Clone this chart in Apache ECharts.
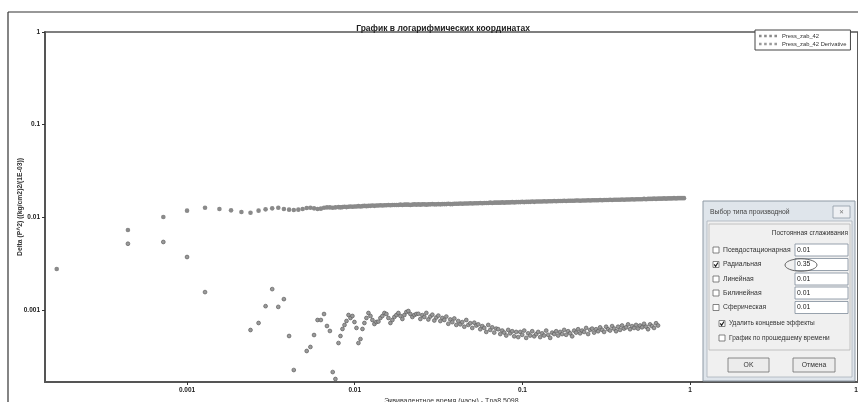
<!DOCTYPE html>
<html><head><meta charset="utf-8">
<script src="https://cdn.jsdelivr.net/npm/echarts@6/dist/echarts.min.js"></script>
<style>html,body{margin:0;padding:0;background:#fff}#c{width:858px;height:402px}</style>
</head><body><div id="c"></div>
<script>
const chartTitle = 'График в логарифмических координатах';
const xAxisName = 'Эквивалентное время (часы) - Tpa8 5098';
const yAxisName = 'Delta (P^2) ((kg/cm2)2/(1E-03))';
const seriesNames = ['Press_zab_42', 'Press_zab_42 Derivative'];
const xTickValues = [0.001, 0.01, 0.1, 1, 10];
const xTickLabels = ['0.001', '0.01', '0.1', '1', '10'];
const yTickValues = [0.001, 0.01, 0.1, 1];
const yTickLabels = ['0.001', '0.01', '0.1', '1'];
const xRange = [0.0001422, 10];
const yRange = [0.0001671, 1];

// time, hours
const earlyTime = [0.000167, 0.000444, 0.000722, 0.001, 0.00128, 0.00156, 0.00183, 0.00211, 0.00239, 0.00267,
  0.00294, 0.00322, 0.0035, 0.00378, 0.00406, 0.00433, 0.00461, 0.00489, 0.00517, 0.00544,
  0.00572, 0.006, 0.00628, 0.00656, 0.00683, 0.00711, 0.00739, 0.00767];
const denseTime = [
  0.00800, 0.00822, 0.00845, 0.00869, 0.00893, 0.00918, 0.00943, 0.00969, 0.00996, 0.01024,
  0.01052, 0.01082, 0.01112, 0.01142, 0.01174, 0.01207, 0.01241, 0.01275, 0.01310, 0.01347,
  0.01384, 0.01423, 0.01462, 0.01503, 0.01545, 0.01588, 0.01632, 0.01677, 0.01724, 0.01772,
  0.01821, 0.01872, 0.01924, 0.01977, 0.02032, 0.02089, 0.02147, 0.02206, 0.02268, 0.02331,
  0.02396, 0.02462, 0.02531, 0.02601, 0.02673, 0.02748, 0.02824, 0.02903, 0.02983, 0.03066,
  0.03152, 0.03239, 0.03329, 0.03422, 0.03517, 0.03615, 0.03715, 0.03819, 0.03925, 0.04034,
  0.04146, 0.04262, 0.04380, 0.04502, 0.04627, 0.04756, 0.04888, 0.05024, 0.05164, 0.05307,
  0.05455, 0.05606, 0.05762, 0.05922, 0.06087, 0.06256, 0.06430, 0.06609, 0.06793, 0.06982,
  0.07176, 0.07375, 0.07580, 0.07791, 0.08008, 0.08230, 0.08459, 0.08694, 0.08936, 0.09184,
  0.09440, 0.09702, 0.09972, 0.1025, 0.1053, 0.1083, 0.1113, 0.1144, 0.1176, 0.1208,
  0.1242, 0.1276, 0.1312, 0.1348, 0.1386, 0.1424, 0.1464, 0.1505, 0.1547, 0.1590,
  0.1634, 0.1679, 0.1726, 0.1774, 0.1823, 0.1874, 0.1926, 0.1980, 0.2035, 0.2091,
  0.2149, 0.2209, 0.2271, 0.2334, 0.2399, 0.2465, 0.2534, 0.2604, 0.2677, 0.2751,
  0.2828, 0.2906, 0.2987, 0.3070, 0.3155, 0.3243, 0.3333, 0.3426, 0.3521, 0.3619,
  0.3720, 0.3823, 0.3929, 0.4039, 0.4151, 0.4266, 0.4385, 0.4507, 0.4632, 0.4761,
  0.4893, 0.5029, 0.5169, 0.5313, 0.5461, 0.5612, 0.5768, 0.5929, 0.6094, 0.6263,
  0.6437, 0.6616, 0.6800, 0.6989, 0.7183, 0.7383, 0.7588, 0.7799, 0.8016, 0.8239,
  0.8468, 0.8703, 0.8945, 0.9194];

// Press_zab_42
const earlyPress = [0.00277, 0.0073, 0.0101, 0.0118, 0.0127, 0.0123, 0.0119, 0.0114, 0.0112, 0.0118,
  0.0122, 0.0125, 0.0127, 0.0123, 0.0121, 0.0120, 0.0121, 0.0123, 0.0126, 0.0127,
  0.0125, 0.0123, 0.0124, 0.0127, 0.0128, 0.0128, 0.0127, 0.0128];
const densePress = [
  0.0129, 0.0128, 0.0129, 0.0130, 0.0129, 0.0130, 0.0131, 0.0130, 0.0131, 0.0131,
  0.0132, 0.0131, 0.0132, 0.0133, 0.0132, 0.0133, 0.0133, 0.0134, 0.0133, 0.0134,
  0.0134, 0.0135, 0.0134, 0.0135, 0.0135, 0.0136, 0.0135, 0.0136, 0.0136, 0.0136,
  0.0136, 0.0137, 0.0136, 0.0137, 0.0137, 0.0137, 0.0136, 0.0137, 0.0138, 0.0137,
  0.0138, 0.0137, 0.0138, 0.0138, 0.0137, 0.0138, 0.0138, 0.0139, 0.0138, 0.0138,
  0.0139, 0.0138, 0.0139, 0.0139, 0.0139, 0.0140, 0.0139, 0.0139, 0.0140, 0.0140,
  0.0140, 0.0141, 0.0140, 0.0141, 0.0141, 0.0141, 0.0142, 0.0141, 0.0142, 0.0142,
  0.0142, 0.0143, 0.0142, 0.0143, 0.0143, 0.0143, 0.0144, 0.0143, 0.0144, 0.0144,
  0.0144, 0.0144, 0.0145, 0.0144, 0.0145, 0.0145, 0.0145, 0.0146, 0.0145, 0.0146,
  0.0146, 0.0146, 0.0147, 0.0146, 0.0147, 0.0147, 0.0147, 0.0148, 0.0147, 0.0148,
  0.0148, 0.0148, 0.0148, 0.0149, 0.0148, 0.0149, 0.0149, 0.0149, 0.0150, 0.0149,
  0.0150, 0.0150, 0.0150, 0.0151, 0.0150, 0.0151, 0.0151, 0.0151, 0.0151, 0.0152,
  0.0152, 0.0151, 0.0152, 0.0152, 0.0152, 0.0153, 0.0152, 0.0153, 0.0153, 0.0153,
  0.0153, 0.0154, 0.0153, 0.0154, 0.0154, 0.0154, 0.0155, 0.0154, 0.0155, 0.0155,
  0.0155, 0.0155, 0.0156, 0.0155, 0.0156, 0.0156, 0.0156, 0.0157, 0.0156, 0.0157,
  0.0157, 0.0157, 0.0157, 0.0158, 0.0157, 0.0158, 0.0158, 0.0158, 0.0159, 0.0158,
  0.0159, 0.0159, 0.0159, 0.0160, 0.0159, 0.0160, 0.0160, 0.0160, 0.0161, 0.0160,
  0.0161, 0.0161, 0.0161, 0.0161];

// Press_zab_42 Derivative (null = not shown)
const earlyDeriv = [null, 0.00519, 0.00542, 0.00373, 0.00156, null, null, null, 0.000608, 0.000724,
  0.0011, 0.00168, 0.00108, 0.00131, 0.000524, 0.000225, null, null, 0.000361, 0.000399,
  0.000537, 0.00078, 0.00078, 0.000905, 0.000672, 0.000594, 0.000214, 0.00018];
const denseDeriv = [
  0.00044, 0.000524, 0.000624, 0.000689, 0.000761, 0.000883, 0.00082, 0.000862, 0.000742, 0.00064,
  0.00044, 0.000486, 0.000624, 0.000724, 0.00082, 0.000928, 0.000862, 0.00078, 0.000706, 0.000742,
  0.00075, 0.00082, 0.000862, 0.000928, 0.000905, 0.00082, 0.000724, 0.00078, 0.000841, 0.000883,
  0.000928, 0.000862, 0.0008, 0.000883, 0.000951, 0.000975, 0.000905, 0.000841, 0.000883, 0.000905,
  0.00091, 0.00080, 0.00088, 0.00084, 0.00093, 0.00079, 0.00085, 0.00089, 0.00077, 0.00083,
  0.00087, 0.00076, 0.00082, 0.00078, 0.00085, 0.00071, 0.00079, 0.00074, 0.00081, 0.00069,
  0.00076, 0.00070, 0.00074, 0.00066, 0.00078, 0.00069, 0.00072, 0.00064, 0.00073, 0.00068,
  0.00070, 0.00062, 0.00067, 0.00064, 0.00058, 0.00069, 0.00061, 0.00065, 0.00057, 0.00063,
  0.00062, 0.00055, 0.00060, 0.00057, 0.00053, 0.00061, 0.00056, 0.00059, 0.00052, 0.00058,
  0.00051, 0.00058, 0.00054, 0.00060, 0.00050, 0.00056, 0.00053, 0.00059, 0.00052, 0.00055,
  0.00058, 0.00051, 0.00056, 0.00053, 0.00060, 0.00054, 0.00050, 0.00057, 0.00055, 0.00059,
  0.00053, 0.00058, 0.00055, 0.00061, 0.00054, 0.00059, 0.00056, 0.00052, 0.00060, 0.00057,
  0.00062, 0.00056, 0.00060, 0.00058, 0.00064, 0.00055, 0.00061, 0.00063, 0.00057, 0.00062,
  0.00059, 0.00065, 0.00061, 0.00058, 0.00066, 0.00062, 0.00060, 0.00067, 0.00063, 0.00059,
  0.00066, 0.00061, 0.00068, 0.00063, 0.00065, 0.00070, 0.00062, 0.00067, 0.00064, 0.00069,
  0.00063, 0.00068, 0.00065, 0.00071, 0.00066, 0.00062, 0.00070, 0.00067, 0.00064, 0.00072, 0.00068];

// dialog texts
const dialogTitle = 'Выбор типа производной';
const dialogHeader = 'Постоянная сглаживания';
const derivTypes = ['Псевдостационарная', 'Радиальная', 'Линейная', 'Билинейная', 'Сферическая'];
const derivChecked = [false, true, false, false, false];
const smoothValues = ['0.01', '0.35', '0.01', '0.01', '0.01'];
const optionLabels = ['Удалить концевые эффекты', 'График по прошедшему времени'];
const optionChecked = [true, false];
const buttonLabels = ['OK', 'Отмена'];

const FONT = 'Liberation Sans, Arial, sans-serif';
const lg = Math.log10;
const allTime = earlyTime.concat(denseTime);
const allPress = earlyPress.concat(densePress);
const allDeriv = earlyDeriv.concat(denseDeriv);
const mainData = [], derivData = [];
allTime.forEach((t, i) => {
  if (allPress[i] != null) mainData.push([lg(t), lg(allPress[i])]);
  if (allDeriv[i] != null) derivData.push([lg(t), lg(allDeriv[i])]);
});

function fmt(vals, labels) {
  return function (v) {
    for (let i = 0; i < vals.length; i++) if (Math.abs(lg(vals[i]) - v) < 1e-6) return labels[i];
    return '';
  };
}

// dialog graphic
const G = [];
let zz = 1;
function add(el) { el.z = 100; el.z2 = zz++; el.silent = true; G.push(el); }
function txt(x, y, s, o) {
  add({ type: 'text', x: x, y: y, style: Object.assign({ text: s, fontSize: 6.5, fontFamily: FONT, fill: '#333', textVerticalAlign: 'middle' }, o || {}) });
}
function checkbox(x, y, on) {
  add({ type: 'rect', shape: { x: x, y: y - 3, width: 6, height: 6 }, style: { fill: '#fff', stroke: '#666', lineWidth: 0.8 } });
  if (on) add({ type: 'polyline', shape: { points: [[x + 1.2, y - 0.2], [x + 2.6, y + 1.8], [x + 5, y - 2]] }, style: { stroke: '#222', lineWidth: 1.2, fill: null } });
}
// frame of the software window
add({ type: 'line', shape: { x1: 8, y1: 12, x2: 860, y2: 12 }, style: { stroke: '#333', lineWidth: 1.2 } });
add({ type: 'line', shape: { x1: 8, y1: 12, x2: 8, y2: 404 }, style: { stroke: '#333', lineWidth: 1.2 } });
// dialog window
add({ type: 'rect', shape: { x: 703, y: 201, width: 152, height: 180 }, style: { fill: '#dfe5eb', stroke: '#8e99a4', lineWidth: 1 } });
txt(710, 212.5, dialogTitle, { fill: '#444', fontSize: 6.8 });
add({ type: 'rect', shape: { x: 833, y: 206, width: 17, height: 12 }, style: { fill: '#eef0f3', stroke: '#8e99a4', lineWidth: 0.8 } });
txt(841.5, 212, '✕', { fontSize: 6, fill: '#777', textAlign: 'center' });
add({ type: 'rect', shape: { x: 707, y: 221, width: 145, height: 156 }, style: { fill: '#f0f0f0', stroke: '#a9b2bb', lineWidth: 0.8 } });
add({ type: 'rect', shape: { x: 709, y: 224, width: 141, height: 126 }, style: { fill: null, stroke: '#b5b5b5', lineWidth: 0.8 } });
txt(848, 233.5, dialogHeader, { textAlign: 'right' });
const rowY = [250, 264.5, 279, 293, 307.5];
derivTypes.forEach((s, i) => {
  const y = rowY[i];
  checkbox(713, y, derivChecked[i]);
  txt(723, y, s, { fontSize: 6.8 });
  add({ type: 'rect', shape: { x: 795, y: y - 6, width: 53, height: 12 }, style: { fill: '#fff', stroke: '#7f8c99', lineWidth: 0.8 } });
  txt(797, y, smoothValues[i], { fontSize: 6.8, fill: '#222' });
});
add({ type: 'ellipse', shape: { cx: 801, cy: 265, rx: 16, ry: 6.2 }, style: { fill: null, stroke: '#555', lineWidth: 0.9 } });
const optY = [323.5, 338];
optionLabels.forEach((s, i) => {
  checkbox(719, optY[i], optionChecked[i]);
  txt(729, optY[i], s, { fontSize: 6.5 });
});
const btnX = [728, 793], btnW = [41, 42];
buttonLabels.forEach((s, i) => {
  add({ type: 'rect', shape: { x: btnX[i], y: 358, width: btnW[i], height: 14 }, style: { fill: '#ececec', stroke: '#707070', lineWidth: 0.8 } });
  txt(btnX[i] + btnW[i] / 2, 365, s, { textAlign: 'center', fontSize: 6.8 });
});

const chart = echarts.init(document.getElementById('c'), null, { renderer: 'canvas' });
chart.setOption({
  animation: false,
  backgroundColor: '#fff',
  title: {
    text: chartTitle, left: 438, top: 19, textAlign: 'center',
    textStyle: { fontSize: 8.5, fontWeight: 'bold', fontFamily: FONT, color: '#222' }
  },
  legend: {
    orient: 'vertical', left: 755, top: 30, itemGap: 2, itemWidth: 18, itemHeight: 3,
    icon: 'path://M0,0h2v2h-2z M4,0h2v2h-2z M8,0h2v2h-2z M12,0h2v2h-2z',
    itemStyle: { borderWidth: 0 },
    padding: [3, 4, 3, 4], borderColor: '#444', borderWidth: 1, backgroundColor: '#fff',
    textStyle: { fontSize: 5.8, fontFamily: FONT, color: '#333' },
    data: seriesNames
  },
  grid: { left: 45, top: 32, width: 812.8, height: 350, show: true, borderColor: '#555', borderWidth: 1.5,
    containLabel: false, outerBoundsMode: 'none' },
  xAxis: {
    type: 'value', min: lg(xRange[0]), max: lg(xRange[1]),
    name: xAxisName, nameLocation: 'middle', nameGap: 16, nameMoveOverlap: false,
    nameTextStyle: { fontSize: 7, fontFamily: FONT, color: '#333' },
    axisLine: { onZero: false, lineStyle: { color: '#555', width: 2 } },
    axisTick: { show: true, length: 3, lineStyle: { color: '#333', width: 1 }, customValues: xTickValues.map(lg) },
    axisLabel: { customValues: xTickValues.map(lg), formatter: fmt(xTickValues, xTickLabels), fontSize: 6.5, fontWeight: 'bold', fontFamily: FONT, color: '#222', margin: 5, hideOverlap: false },
    splitLine: { show: false }
  },
  yAxis: {
    type: 'value', min: lg(yRange[0]), max: lg(yRange[1]),
    name: yAxisName, nameLocation: 'middle', nameGap: 21, nameRotate: 90, nameMoveOverlap: false,
    nameTextStyle: { fontSize: 6.8, fontWeight: 'bold', fontFamily: FONT, color: '#333' },
    axisLine: { onZero: false, lineStyle: { color: '#555', width: 2 } },
    axisTick: { show: true, length: 3, lineStyle: { color: '#333', width: 1 }, customValues: yTickValues.map(lg) },
    axisLabel: { customValues: yTickValues.map(lg), formatter: fmt(yTickValues, yTickLabels), fontSize: 6.5, fontWeight: 'bold', fontFamily: FONT, color: '#222', margin: 5 },
    splitLine: { show: false }
  },
  series: [
    { name: seriesNames[0], type: 'scatter', data: mainData, symbol: 'circle', symbolSize: 4.6,
      itemStyle: { color: '#8a8a8a', opacity: 1 } },
    { name: seriesNames[1], type: 'scatter', data: derivData, symbol: 'circle', symbolSize: 3.8,
      itemStyle: { color: '#9a9a9a', borderColor: '#5e5e5e', borderWidth: 0.7, opacity: 1 } }
  ],
  graphic: { elements: G }
});
</script></body></html>
